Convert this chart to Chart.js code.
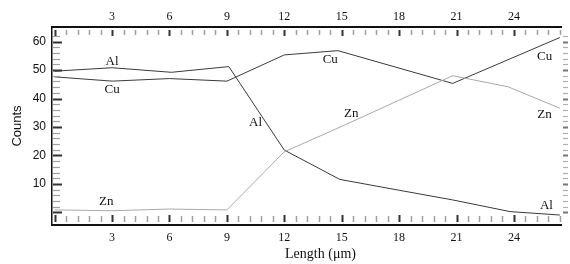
<!DOCTYPE html>
<html>
<head>
<meta charset="utf-8">
<script src="https://cdn.jsdelivr.net/npm/chart.js@4"></script>
<style>
  html, body { margin: 0; padding: 0; background: #fff; }
  #wrap { width: 570px; height: 264px; }
</style>
</head>
<body>
<div id="wrap"><canvas id="lineScan" width="570" height="264"></canvas></div>
<script>
// line scan: counts along the length (µm)
const cuLength = [0, 3, 6, 9, 12, 14.8, 20.8, 26.4];
const cuCounts = [47.6, 46.1, 47.0, 46.1, 55.3, 56.8, 45.3, 61.4];

const alLength = [0, 3, 6.1, 9.1, 12, 14.9, 18, 20.8, 23.8, 26.4];
const alCounts = [49.6, 50.8, 49.2, 51.2, 21.9, 11.6, 7.8, 4.4, 0.3, -0.9];

const znLength = [0, 3, 6, 9, 12, 14.7, 20.8, 23.7, 26.4];
const znCounts = [0.9, 0.6, 1.2, 0.9, 21.3, 29.3, 48.0, 44.1, 36.6];

const xTickLabels = [3, 6, 9, 12, 15, 18, 21, 24];
const yTickLabels = [10, 20, 30, 40, 50, 60];

// element names written next to the curves
const tagText   = ['Al', 'Cu', 'Cu', 'Al', 'Zn', 'Cu', 'Zn', 'Zn', 'Al'];
const tagLength = [3, 3, 14.4, 10.5, 15.5, 25.6, 25.6, 2.7, 25.7];
const tagCounts = [52.8, 43.3, 53.5, 31.5, 34.8, 54.7, 34.2, 3.8, 2.3];

const X_MIN = -0.14, X_MAX = 26.46;
const Y_MIN = -4.4, Y_MAX = 65.1;
const X_MINOR = 0.6, X_MINOR_END = 26.4;   // 5 minor steps per labelled 3 µm
const Y_MINOR = 2, Y_MINOR_END = 62;

const SERIF = "'Liberation Serif', 'Times New Roman', serif";
const SANS = "'Liberation Sans', Arial, sans-serif";

function toPoints(xs, ys) {
    return xs.map((x, i) => ({ x: x, y: ys[i] }));
}

function fixedTicks(values) {
    return function (scale) {
        scale.ticks = values.map(v => ({ value: v }));
    };
}

// ticks drawn on the inner side of the frame, plus the element tags
const frameTicks = {
    id: 'frameTicks',
    afterDraw(chart) {
        const ctx = chart.ctx;
        const area = chart.chartArea;
        const xs = chart.scales.x;
        const ys = chart.scales.y;

        ctx.save();
        const nx = Math.round(X_MINOR_END / X_MINOR);
        for (let i = 0; i <= nx; i++) {
            const major = i % 5 === 0;
            const px = Math.round(xs.getPixelForValue(i * X_MINOR)) + 0.5;
            ctx.strokeStyle = major ? '#333' : '#a0a0a0';
            ctx.lineWidth = major ? 2 : 1.5;
            ctx.beginPath();
            ctx.moveTo(px, area.top + 3);
            ctx.lineTo(px, area.top + (major ? 9 : 8));
            ctx.moveTo(px, area.bottom - 3);
            ctx.lineTo(px, area.bottom - (major ? 10 : 9));
            ctx.stroke();
        }
        const ny = Math.round(Y_MINOR_END / Y_MINOR);
        for (let i = 0; i <= ny; i++) {
            const major = i % 5 === 0;
            const py = Math.round(ys.getPixelForValue(i * Y_MINOR)) + 0.5;
            ctx.strokeStyle = major ? '#333' : '#a0a0a0';
            ctx.lineWidth = major ? 2 : 1.2;
            ctx.beginPath();
            ctx.moveTo(area.left + 1, py);
            ctx.lineTo(area.left + (major ? 10 : 8), py);
            ctx.stroke();
            ctx.strokeStyle = major ? '#777' : '#b0b0b0';
            ctx.beginPath();
            ctx.moveTo(area.right + 2, py);
            ctx.lineTo(area.right + 7, py);
            ctx.stroke();
        }

        ctx.fillStyle = '#111';
        ctx.font = '13px ' + SERIF;
        ctx.textAlign = 'center';
        ctx.textBaseline = 'middle';
        tagText.forEach((t, i) => {
            ctx.fillText(t, xs.getPixelForValue(tagLength[i]), ys.getPixelForValue(tagCounts[i]));
        });
        ctx.restore();
    }
};

const lineStyle = {
    borderWidth: 1,
    pointRadius: 0,
    tension: 0,
    fill: false
};

new Chart(document.getElementById('lineScan'), {
    type: 'line',
    data: {
        datasets: [
            Object.assign({ label: 'Zn', data: toPoints(znLength, znCounts), borderColor: '#a9a9a9' }, lineStyle),
            Object.assign({ label: 'Al', data: toPoints(alLength, alCounts), borderColor: '#3a3a3a' }, lineStyle),
            Object.assign({ label: 'Cu', data: toPoints(cuLength, cuCounts), borderColor: '#3a3a3a' }, lineStyle)
        ]
    },
    options: {
        responsive: false,
        animation: false,
        layout: { padding: 0 },
        plugins: {
            legend: { display: false },
            tooltip: { enabled: false }
        },
        scales: {
            x: {
                type: 'linear',
                position: 'bottom',
                min: X_MIN,
                max: X_MAX,
                afterBuildTicks: fixedTicks(xTickLabels),
                afterFit: s => { s.height = 39; },
                grid: { display: false, drawTicks: false },
                border: { display: true, color: '#111', width: 2 },
                ticks: {
                    autoSkip: false,
                    maxRotation: 0,
                    padding: 6,
                    color: '#111',
                    font: { family: SERIF, size: 12 }
                },
                title: {
                    display: true,
                    text: '\u2002\u2002\u2002\u2002Length (μm)',
                    color: '#111',
                    font: { family: SERIF, size: 14 },
                    padding: { top: 0, bottom: 1 }
                }
            },
            x2: {
                type: 'linear',
                position: 'top',
                min: X_MIN,
                max: X_MAX,
                afterBuildTicks: fixedTicks(xTickLabels),
                afterFit: s => { s.height = 27; },
                grid: { display: false, drawTicks: false },
                border: { display: true, color: '#111', width: 2 },
                ticks: {
                    autoSkip: false,
                    maxRotation: 0,
                    padding: 3,
                    color: '#111',
                    font: { family: SERIF, size: 12 }
                }
            },
            y: {
                type: 'linear',
                position: 'left',
                min: Y_MIN,
                max: Y_MAX,
                afterBuildTicks: fixedTicks(yTickLabels),
                afterFit: s => { s.width = 52; },
                grid: { display: false, drawTicks: false },
                border: { display: true, color: '#111', width: 1.5 },
                ticks: {
                    padding: 6,
                    color: '#111',
                    font: { family: SANS, size: 12 }
                },
                title: {
                    display: true,
                    text: 'Counts',
                    color: '#111',
                    font: { family: SANS, size: 13 },
                    padding: { top: 10, bottom: 0 }
                }
            },
            y2: {
                type: 'linear',
                position: 'right',
                min: Y_MIN,
                max: Y_MAX,
                afterFit: s => { s.width = 9; },
                grid: { display: false, drawTicks: false },
                border: { display: false },
                ticks: { display: false }
            }
        }
    },
    plugins: [frameTicks]
});
</script>
</body>
</html>
